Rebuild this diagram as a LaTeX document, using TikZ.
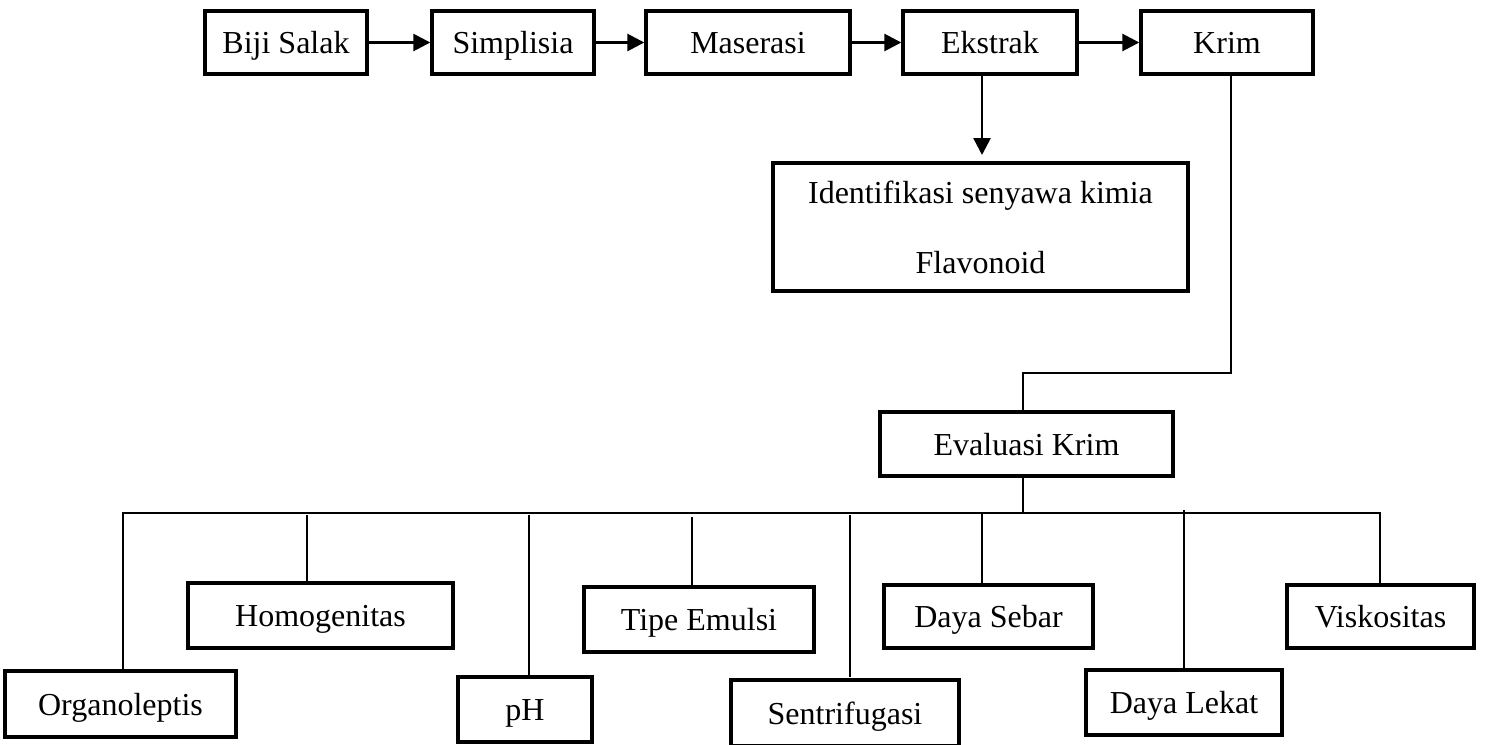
\documentclass[tikz,border=0pt]{standalone}
\usepackage{fontspec}
\setmainfont{Liberation Serif}
\usetikzlibrary{arrows.meta}
\begin{document}
\begin{tikzpicture}[x=1pt,y=-1pt,
  box/.style={draw=black, line width=3.4pt, inner sep=0pt, align=center,
    font=\fontsize{32}{38}\selectfont, text height=28pt, text depth=6pt},
  conn/.style={draw=black, line width=2.7pt},
  arr/.style={conn, -{Triangle[length=17pt,width=17pt]}}]
\useasboundingbox (0,0) rectangle (1498,744);
% top row
\node[box, minimum width=162pt, minimum height=63pt] (biji) at (286,42.5) {Biji Salak};
\node[box, minimum width=162pt, minimum height=63pt] (simp) at (513,42.5) {Simplisia};
\node[box, minimum width=204pt, minimum height=63pt] (maser) at (748,42.5) {Maserasi};
\node[box, minimum width=174pt, minimum height=63pt] (ekstrak) at (990,42.5) {Ekstrak};
\node[box, minimum width=172pt, minimum height=63pt] (krim) at (1227,42.5) {Krim};
\node[box, text height=, text depth=, minimum width=415pt, minimum height=128pt] (ident) at (980.5,227) {Identifikasi senyawa kimia\\[32pt]Flavonoid};
\node[box, minimum width=293pt, minimum height=64pt] (eval) at (1026.5,444) {Evaluasi Krim};
% bottom row
\node[box, minimum width=231pt, minimum height=66pt] (organo) at (120.5,704) {Organoleptis};
\node[box, minimum width=265pt, minimum height=65pt] (homo) at (320.5,615.5) {Homogenitas};
\node[box, minimum width=134pt, minimum height=65pt] (ph) at (525,709.5) {pH};
\node[box, minimum width=230pt, minimum height=65pt] (tipe) at (699,619.5) {Tipe Emulsi};
\node[box, minimum width=228pt, minimum height=66pt] (sentri) at (845,713) {Sentrifugasi};
\node[box, minimum width=209pt, minimum height=63pt] (sebar) at (988.5,616.5) {Daya Sebar};
\node[box, minimum width=196pt, minimum height=65pt] (lekat) at (1184,702.5) {Daya Lekat};
\node[box, minimum width=187pt, minimum height=63pt] (visko) at (1380.5,616.5) {Viskositas};
% coordinates
\coordinate (ekd) at (982,74);
\coordinate (ekt) at (982,155);
\coordinate (kd) at (1231,74);
\coordinate (ke) at (1023,373);
\coordinate (bL) at (123,513);
\coordinate (bR) at (1380,513);
\coordinate (be) at (1023,513);
% arrows top row
\draw[arr] (biji) -- (simp);
\draw[arr] (simp) -- (maser);
\draw[arr] (maser) -- (ekstrak);
\draw[arr] (ekstrak) -- (krim);
\draw[arr] (ekd |- ekstrak.south) -- (ekt);
% krim to evaluasi
\draw[conn] (kd |- krim.south) |- (ke) -- (ke |- eval.north);
\draw[conn] (be |- eval.south) -- (be);
% bus
\draw[conn] (bL |- organo.north) -- (bL) -- (bR) -- (bR |- visko.north);
\draw[conn] (307,515) -- (307,0 |- homo.north);
\draw[conn] (529,515) -- (529,0 |- ph.north);
\draw[conn] (692,517) -- (692,0 |- tipe.north);
\draw[conn] (850,515) -- (850,677);
\draw[conn] (982,513) -- (982,0 |- sebar.north);
\draw[conn] (1184,510) -- (1184,0 |- lekat.north);
\end{tikzpicture}
\end{document}
